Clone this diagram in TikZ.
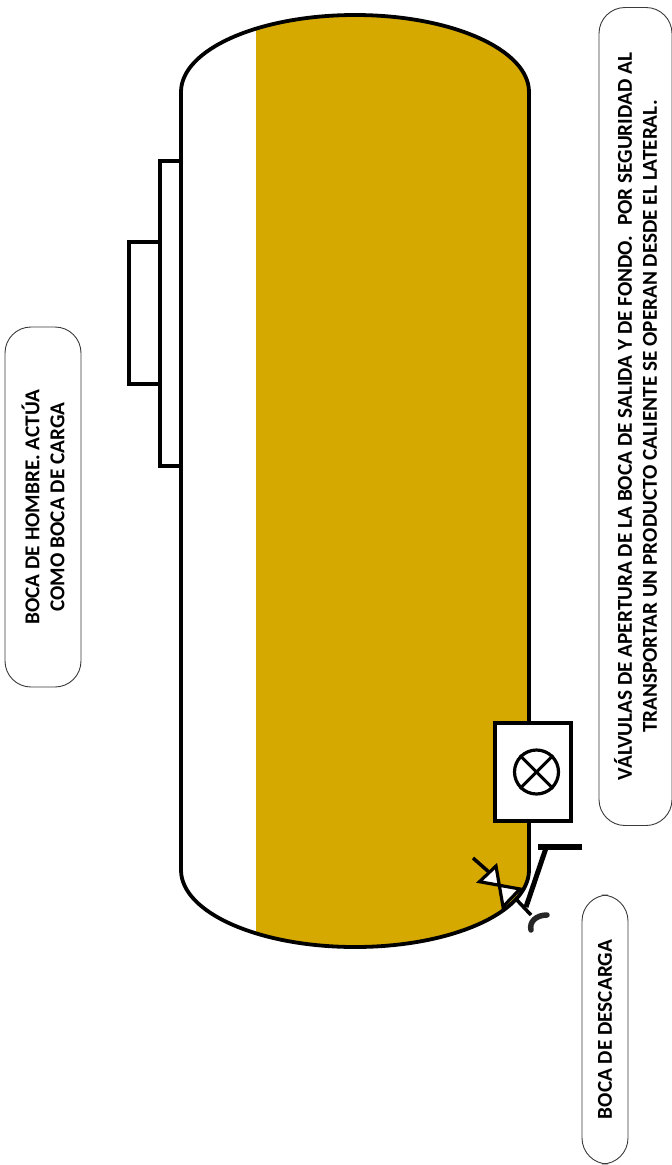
\documentclass[tikz,border=0pt]{standalone}
\usepackage{fontspec}
\setmainfont{Carlito}
\usepackage{xcolor}
\usetikzlibrary{positioning}
\definecolor{cFill}{HTML}{D5A900}
\definecolor{cLine}{HTML}{000000}
\definecolor{cEdge}{HTML}{3A3A3A}
\tikzset{
  outl/.style={draw=cLine, line width=3.8pt},
  valvebody/.style={draw=cLine, line width=3.2pt, fill=white, line join=miter},
  lever/.style={draw=cLine, line cap=butt},
  callout/.style={draw=cEdge, line width=0.9pt, rounded corners=26pt, fill=white, rotate=90,
                  inner sep=0pt, align=center, font=\fontsize{21.2pt}{25pt}\selectfont\bfseries}
}
\begin{document}
\begin{tikzpicture}[x=1pt, y=-1pt]
\useasboundingbox (0,0) rectangle (672,1165);
% tank fill
\begin{scope}
  \clip (181,92) arc[start angle=180, end angle=360, x radius=174, y radius=77]
    -- (529,870) arc[start angle=0, end angle=180, x radius=174, y radius=77] -- cycle;
  \fill[cFill] (256,0) rectangle (540,960);
\end{scope}
% tank outline
\draw[outl] (181,92) arc[start angle=180, end angle=360, x radius=174, y radius=77]
  -- (529,870) arc[start angle=0, end angle=180, x radius=174, y radius=77] -- cycle;
% manhole
\draw[outl, fill=white] (160,161) rectangle (181,466);
\draw[outl, fill=white] (129,242) rectangle (160,384);
% gauge box
\node[outl, fill=white, minimum width=76pt, minimum height=98pt, inner sep=0pt] (gauge) at (533,772) {};
\node[draw=cLine, line width=3.2pt, circle, minimum size=44pt, inner sep=0pt] (dial) at (536.5,772) {};
\draw[cLine, line width=3pt] (dial.45) -- (dial.225);
\draw[cLine, line width=3pt] (dial.135) -- (dial.315);
% discharge valve
\draw[cLine, line width=3.5pt] (473,858) -- (490,873);
\draw[cLine, line width=3.5pt] (515,898) -- (531,915);
\draw[valvebody] (496,866) -- (479.5,881.7) -- (520,889) -- (503,906.7) -- cycle;
% lever and handle
\draw[lever, line width=5pt] (526,907) -- (546,848);
\draw[lever, line width=6pt] (538,847) -- (582,847);
\draw[lever, draw=black!85, line width=5.5pt, line cap=round] (547,915) .. controls (536,915) and (529,922) .. (531,930);
% labels
\node[callout, minimum width=360pt, minimum height=76pt] (manhole) at (43,507) {BOCA DE HOMBRE. ACTÚA\\COMO BOCA DE CARGA};
\node[callout, minimum width=818pt, minimum height=73pt] (valves) at (635.5,416.5) {VÁLVULAS DE APERTURA DE LA BOCA DE SALIDA Y DE FONDO.~~POR SEGURIDAD AL\\TRANSPORTAR UN PRODUCTO CALIENTE SE OPERAN DESDE EL LATERAL.};
\node[callout, minimum width=269pt, minimum height=46pt] (outlet) at (605,1029.5) {BOCA DE DESCARGA};
\end{tikzpicture}
\end{document}
